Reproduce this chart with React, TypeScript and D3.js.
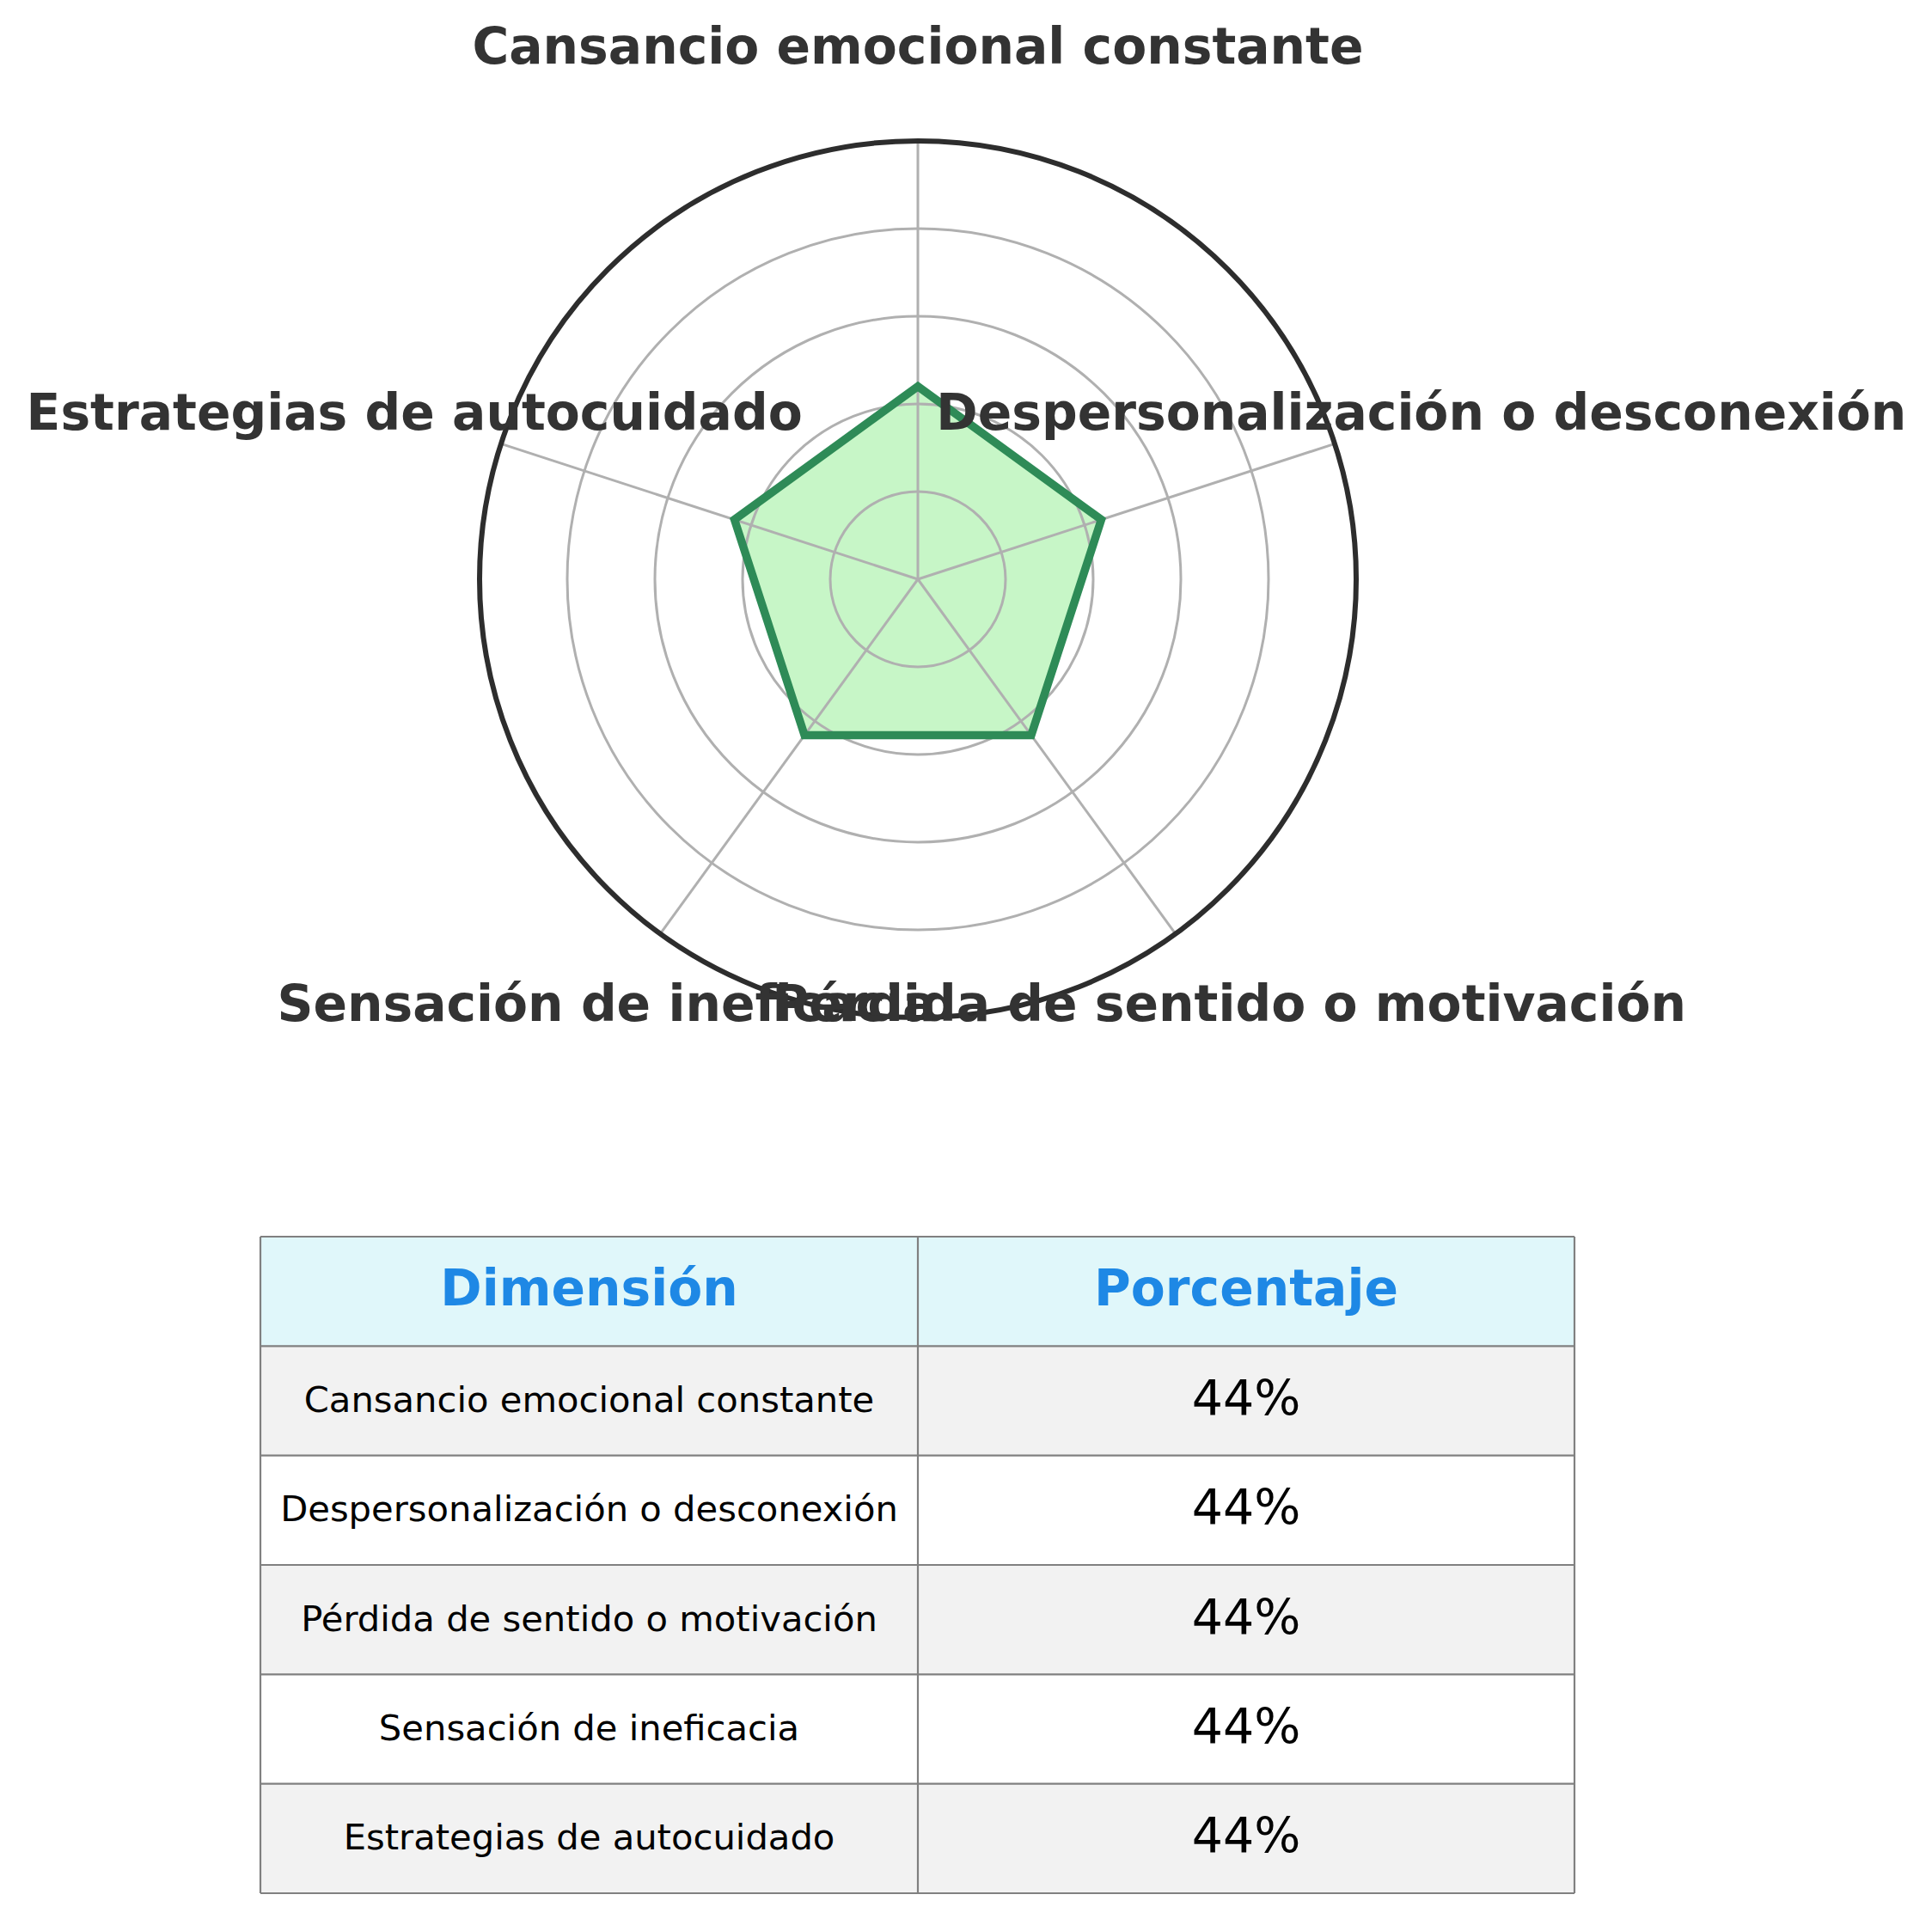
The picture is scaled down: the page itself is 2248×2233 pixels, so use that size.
import React from "react";
import * as d3 from "d3";

const categories = [
  "Cansancio emocional constante",
  "Despersonalización o desconexión",
  "Pérdida de sentido o motivación",
  "Sensación de ineficacia",
  "Estrategias de autocuidado",
];
const values = [44, 44, 44, 44, 44];
const ringTicks = [20, 40, 60, 80];
const maxValue = 100;
const tableHeaders = ["Dimensión", "Porcentaje"];

const W = 2248;
const H = 2233;
const CX = 1068;
const CY = 674;
const R = 510;
const LABEL_R = 616;
const FONT = "'DejaVu Sans', sans-serif";

const TABLE_X0 = 303;
const TABLE_X1 = 1832;
const TABLE_XM = 1068;
const TABLE_Y0 = 1439;
const TABLE_Y1 = 2203;

export default function App() {
  const r = d3.scaleLinear().domain([0, maxValue]).range([0, R]);
  const n = categories.length;
  const angle = d3
    .scaleLinear()
    .domain([0, n])
    .range([0, 2 * Math.PI]);

  const radial = d3
    .lineRadial<number>()
    .angle((_, i) => angle(i))
    .radius((d) => r(d))
    .curve(d3.curveLinearClosed);

  const pathD = radial(values) || "";

  const rows = categories.map((c, i) => ({ c, v: values[i] }));
  const rowScale = d3
    .scaleBand<number>()
    .domain(d3.range(rows.length + 1))
    .range([TABLE_Y0, TABLE_Y1]);
  const rh = rowScale.bandwidth();

  return (
    <svg
      width={W}
      height={H}
      style={{ position: "absolute", left: 0, top: 0, background: "#fff" }}
      fontFamily={FONT}
    >
      <rect x={0} y={0} width={W} height={H} fill="#fff" />
      <g transform={`translate(${CX},${CY})`}>
        <path d={pathD} fill="#90ee90" fillOpacity={0.5} stroke="none" />
        {ringTicks.map((t) => (
          <circle key={t} r={r(t)} fill="none" stroke="#b0b0b0" strokeWidth={3} />
        ))}
        {categories.map((c, i) => {
          const a = angle(i);
          return (
            <line
              key={c}
              x1={0}
              y1={0}
              x2={r(maxValue) * Math.sin(a)}
              y2={-r(maxValue) * Math.cos(a)}
              stroke="#b0b0b0"
              strokeWidth={3}
            />
          );
        })}
        <path d={pathD} fill="none" stroke="#2e8b57" strokeWidth={9.5} strokeLinejoin="miter" />
        <circle r={r(maxValue)} fill="none" stroke="#2d2d2d" strokeWidth={6} />
        {categories.map((c, i) => {
          const a = angle(i);
          const x = LABEL_R * Math.sin(a);
          const y = -LABEL_R * Math.cos(a);
          return (
            <text
              key={c}
              x={x}
              y={y + 16}
              textAnchor="middle"
              fontSize={58.3}
              fontWeight="bold"
              fill="#333333"
            >
              {c}
            </text>
          );
        })}
      </g>

      <g>
        <rect x={TABLE_X0} y={rowScale(0)} width={TABLE_X1 - TABLE_X0} height={rh} fill="#e0f7fa" />
        {rows.map((row, i) => (
          <rect
            key={row.c}
            x={TABLE_X0}
            y={rowScale(i + 1)}
            width={TABLE_X1 - TABLE_X0}
            height={rh}
            fill={i % 2 === 0 ? "#f2f2f2" : "#ffffff"}
          />
        ))}
        {d3.range(rows.length + 2).map((k) => {
          const y = TABLE_Y0 + k * rh;
          return (
            <line key={"h" + k} x1={TABLE_X0} x2={TABLE_X1} y1={y} y2={y} stroke="#808080" strokeWidth={2.2} />
          );
        })}
        {[TABLE_X0, TABLE_XM, TABLE_X1].map((x) => (
          <line key={"v" + x} x1={x} x2={x} y1={TABLE_Y0} y2={TABLE_Y1} stroke="#808080" strokeWidth={2.2} />
        ))}
        {tableHeaders.map((h, j) => (
          <text
            key={h}
            x={j === 0 ? (TABLE_X0 + TABLE_XM) / 2 : (TABLE_XM + TABLE_X1) / 2}
            y={(rowScale(0) as number) + rh / 2 + 16}
            textAnchor="middle"
            fontSize={58.3}
            fontWeight="bold"
            fill="#1e88e5"
          >
            {h}
          </text>
        ))}
        {rows.map((row, i) => {
          const cy = (rowScale(i + 1) as number) + rh / 2;
          return (
            <g key={"t" + row.c}>
              <text x={(TABLE_X0 + TABLE_XM) / 2} y={cy + 13} textAnchor="middle" fontSize={41.7} fill="#000">
                {row.c}
              </text>
              <text x={(TABLE_XM + TABLE_X1) / 2} y={cy + 17} textAnchor="middle" fontSize={57} fill="#000">
                {`${row.v}%`}
              </text>
            </g>
          );
        })}
      </g>
    </svg>
  );
}
